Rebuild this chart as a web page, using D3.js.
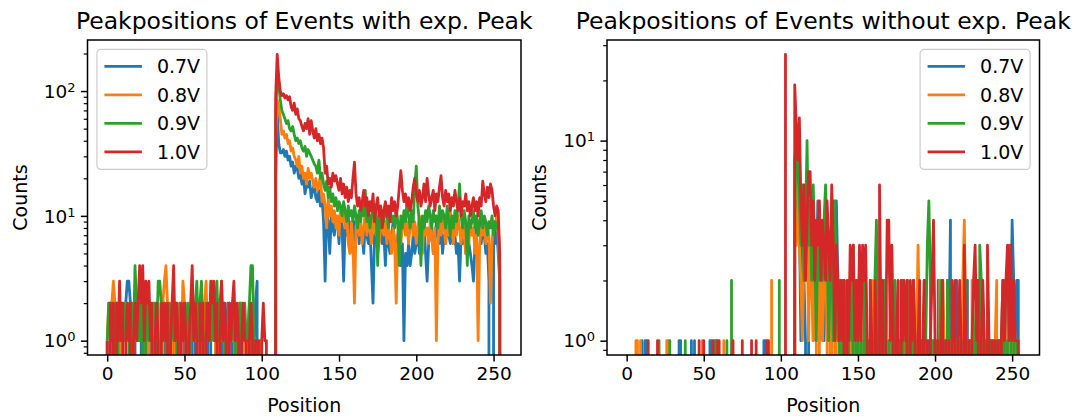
<!DOCTYPE html>
<html>
<head>
<meta charset="utf-8">
<script src="https://cdn.jsdelivr.net/npm/d3@7"></script>
<style>
    body { margin: 0; background: #ffffff; }
    svg { font-family: "DejaVu Sans", sans-serif; }
</style>
</head>
<body>
<svg id="chart"></svg>
<script>
// x positions 0..255 (one bin per position)
const positions = d3.range(256);
const seriesLabels = ["0.7V", "0.8V", "0.9V", "1.0V"];
const seriesColors = ["#1f77b4", "#ff7f0e", "#2ca02c", "#d62728"];
const xTickValues = [0, 50, 100, 150, 200, 250];
const panelTitles = ["Peakpositions of Events with exp. Peak", "Peakpositions of Events without exp. Peak"];

// events with expected peak
const withPeak07 = [
    1,0,1,2,1,1,2,0,1,2,1,1,2,3,3,2,
    1,0,1,2,1,1,2,0,1,1,2,1,0,1,2,1,
    1,0,1,2,1,1,0,2,1,1,0,1,2,1,0,1,
    1,2,1,0,1,2,1,1,0,1,2,1,1,0,1,1,
    2,1,0,1,2,1,1,0,1,2,1,0,1,1,2,1,
    0,1,1,2,1,0,1,2,1,1,0,1,2,1,0,1,
    2,3,0,0,0,0,0,0,0,0,0,0,0,20,68,38,
    32,32,34,30,33,28,30,25,27,22,25,24,20,22,18,20,
    15,18,17,19,14,16,18,14,13,16,12,14,9,3,11,9,
    5,10,8,7,10,9,6,11,8,3,9,7,10,6,8,5,
    9,7,10,6,8,7,5,9,7,6,8,4,2,7,9,5,
    7,8,6,7,4,8,6,5,7,9,6,5,7,5,4,6,
    1,5,4,6,4,5,7,5,6,8,5,7,6,9,5,3,
    6,7,8,5,6,9,7,6,8,5,7,6,9,7,6,8,
    6,7,5,6,3,7,6,8,5,7,6,5,4,3,6,8,
    7,9,6,8,7,5,6,3,0,0,7,6,8,5,3,0
];
const withPeak08 = [
    1,2,1,2,3,2,1,2,1,0,2,1,2,1,2,1,
    0,2,1,2,1,2,1,3,1,2,0,1,2,1,2,1,
    1,2,1,0,2,3,4,2,1,2,1,0,1,2,1,2,
    1,3,2,1,0,2,1,2,1,1,2,1,2,0,1,2,
    3,1,2,1,3,2,1,0,1,2,1,2,1,0,1,2,
    1,1,2,1,0,2,2,2,1,1,0,1,1,0,1,0,
    1,0,0,1,0,0,0,0,0,0,0,0,0,40,85,75,
    60,45,48,42,45,38,40,33,35,30,28,25,30,22,25,20,
    22,18,24,20,22,19,17,20,16,18,21,13,15,12,8,14,
    10,12,9,11,8,10,7,12,9,11,8,10,6,5,9,6,
    2,8,10,7,9,6,8,11,7,9,8,6,10,8,7,9,
    6,8,10,7,9,6,8,7,5,8,6,2,7,9,6,8,
    10,7,9,6,8,11,7,9,6,8,10,7,5,9,7,8,
    6,9,7,5,8,1,6,9,7,10,8,6,9,7,11,8,
    6,9,7,10,8,6,9,7,5,8,6,9,7,8,5,7,
    1,6,8,7,9,6,8,7,2,6,9,8,10,7,3,0
];
const withPeak09 = [
    1,2,2,1,2,1,0,2,1,2,1,2,1,2,1,0,
    2,1,4,2,1,2,1,2,0,1,2,1,2,1,0,2,
    1,3,3,2,1,2,1,0,2,1,2,1,2,1,0,2,
    1,1,2,1,2,0,1,2,1,2,3,1,2,3,1,0,
    2,1,2,1,2,1,2,3,1,2,3,1,2,0,1,2,
    1,2,1,2,0,1,2,1,1,2,1,1,2,4,4,1,
    0,0,0,0,0,0,0,0,0,0,0,0,0,60,140,110,
    85,70,65,60,55,58,50,48,52,45,40,42,38,40,35,33,
    36,30,34,32,30,28,26,25,22,28,20,22,18,16,19,14,
    17,13,15,12,14,11,13,12,10,13,11,9,12,10,11,9,
    12,10,8,11,9,12,10,16,9,11,8,10,12,9,11,4,
    10,8,11,9,12,10,8,11,9,10,8,12,9,4,10,8,
    11,9,13,10,8,11,9,17,25,12,9,4,10,8,11,9,
    12,10,8,11,9,10,8,12,9,11,10,8,12,9,7,10,
    8,11,9,12,18,10,8,11,9,4,10,8,9,11,8,10,
    7,9,11,8,10,9,7,9,8,10,7,9,8,9,4,0
];
const withPeak10 = [
    1,0,2,1,2,0,2,1,3,1,2,0,1,2,1,2,
    0,1,2,1,2,4,2,4,1,3,2,3,1,2,0,1,
    2,1,0,2,1,2,1,2,0,1,2,4,1,2,1,0,
    2,1,2,1,0,1,2,4,1,2,1,0,2,1,2,0,
    1,2,1,3,2,3,1,2,0,1,3,1,2,1,0,2,
    1,2,3,1,2,1,0,1,2,1,1,0,1,2,1,0,
    1,1,1,0,1,2,1,1,0,0,0,0,0,90,197,130,
    100,92,95,88,92,85,90,75,70,80,65,72,60,58,52,48,
    55,50,60,45,58,48,42,50,40,45,38,42,35,22,25,18,
    20,17,22,19,21,18,16,20,15,18,14,17,13,16,14,20,
    27,15,12,14,11,13,16,12,14,10,13,11,15,9,12,14,
    10,12,8,11,13,10,12,9,14,11,13,10,12,17,23,16,
    13,15,12,14,11,13,17,20,15,13,16,12,14,18,13,20,
    15,12,14,16,11,15,13,17,21,14,12,16,13,15,11,14,
    12,16,13,11,14,10,13,12,15,11,13,10,12,14,11,13,
    10,14,12,19,15,13,17,14,18,16,12,10,12,11,5,0
];

// events without expected peak
const noPeak07 = [
    0,0,0,0,0,0,0,0,0,0,1,0,1,1,0,0,
    0,0,0,0,0,0,0,0,0,0,0,0,0,0,0,0,
    0,0,1,1,0,0,0,0,0,0,1,0,1,0,0,0,
    0,0,0,0,0,0,1,1,0,0,1,0,0,0,0,0,
    0,0,0,0,0,0,0,0,0,0,0,0,0,0,0,0,
    0,0,0,0,0,0,0,0,0,1,1,0,0,0,0,0,
    0,0,0,0,0,0,0,0,0,0,0,0,0,8,10,7,
    4,1,3,2,1,0,3,2,4,1,3,2,5,1,2,3,
    1,2,4,1,2,3,5,1,5,2,1,0,2,1,0,1,
    2,0,1,2,0,1,0,2,1,0,1,0,1,0,2,0,
    1,0,0,1,0,2,1,0,1,0,1,0,2,1,0,0,
    1,0,1,2,0,1,0,1,0,1,2,0,1,0,0,1,
    0,2,1,0,1,0,1,0,1,0,2,0,1,0,1,0,
    2,1,4,0,1,0,2,1,0,1,0,1,0,2,0,1,
    0,1,0,1,0,2,0,1,0,0,1,0,1,0,1,0,
    1,0,1,1,2,0,2,1,2,1,4,2,1,2,2,0
];
const noPeak08 = [
    0,0,0,0,0,0,1,1,0,1,0,0,0,0,0,0,
    0,0,0,0,0,0,0,0,0,0,1,1,0,0,0,0,
    0,0,0,0,0,0,0,0,0,0,0,0,0,0,0,0,
    0,1,0,0,0,0,0,0,0,0,0,0,0,0,0,1,
    0,0,0,0,0,0,0,0,0,0,0,0,0,0,0,0,
    0,0,0,0,0,0,0,0,0,0,0,0,0,0,2,0,
    0,0,0,0,0,0,0,0,0,0,0,0,0,5,3,6,
    3,2,1,3,2,4,1,3,2,1,2,1,0,3,2,1,
    2,3,1,0,2,1,0,1,2,0,1,0,1,2,0,1,
    0,1,0,2,0,1,0,1,2,0,1,0,0,1,0,2,
    1,0,1,0,1,0,1,0,2,1,0,1,0,1,0,0,
    1,0,1,0,1,0,2,0,1,0,1,0,1,3,1,0,
    1,0,1,0,0,1,0,1,0,1,0,2,0,2,1,0,
    1,0,1,0,1,0,1,0,1,0,2,4,1,0,1,0,
    2,1,0,2,0,1,0,1,0,1,0,1,0,1,0,1,
    2,0,1,0,1,1,0,1,3,2,1,0,1,0,1,0
];
const noPeak09 = [
    0,0,0,0,0,0,0,0,0,0,0,0,0,0,0,0,
    0,0,0,0,0,1,0,0,0,0,0,0,1,0,0,0,
    0,0,0,0,0,0,1,0,0,0,0,0,0,0,0,0,
    0,0,0,0,0,0,0,0,0,1,1,0,0,0,0,0,
    0,1,0,0,2,0,0,0,0,0,0,0,0,0,0,0,
    0,0,0,0,0,0,0,0,0,0,0,0,0,0,0,0,
    0,0,0,2,0,0,0,0,0,0,0,0,0,4,11,9,
    5,3,6,2,4,10,3,5,2,6,3,1,4,2,3,2,
    4,6,3,1,2,3,1,5,2,1,2,0,1,2,1,0,
    1,2,1,3,0,1,2,0,1,0,2,1,0,1,0,1,
    0,2,4,1,0,1,0,2,1,0,1,0,1,0,2,1,
    0,1,0,2,0,1,2,0,1,0,2,1,0,1,0,1,
    0,2,1,3,5,2,0,1,0,1,0,1,2,0,1,0,
    2,1,0,2,0,1,0,1,0,1,0,1,2,0,1,0,
    1,0,1,2,0,3,2,0,1,0,1,0,1,0,1,0,
    1,0,1,0,1,2,0,1,0,2,1,2,0,1,0,0
];
const noPeak10 = [
    0,0,0,0,0,0,0,0,0,0,0,0,0,0,1,0,
    0,0,0,0,1,0,0,0,0,0,0,0,0,0,0,0,
    0,0,0,0,0,0,0,0,0,0,0,0,0,0,0,1,
    0,0,1,0,0,0,0,0,1,0,0,1,1,0,0,0,
    0,0,0,0,0,1,0,0,0,0,0,1,0,0,0,0,
    0,1,0,0,1,0,0,0,0,0,0,1,1,0,0,0,
    0,0,0,0,0,0,0,27,0,0,0,0,0,19,12,8,
    13,5,3,6,2,4,7,7,3,5,2,4,3,5,2,4,
    3,2,5,3,2,6,3,1,3,2,1,2,1,2,0,2,
    1,3,2,3,1,2,1,3,1,3,2,3,1,0,2,1,
    0,2,1,0,6,1,2,0,1,4,4,1,3,1,0,1,
    2,0,2,1,2,1,2,0,2,1,2,1,0,1,2,0,
    1,2,0,1,0,1,2,4,1,0,1,0,1,2,0,1,
    0,1,0,2,1,2,0,1,2,1,0,3,1,0,1,0,
    1,2,3,1,2,0,1,2,1,0,3,1,0,1,0,1,
    0,1,0,1,2,1,2,3,1,3,1,2,1,1,1,0
];

const width = 1084;
const height = 418;
const plotTop = 40;
const plotBottom = 355;

const svg = d3.select("#chart")
    .attr("width", width)
    .attr("height", height);

function drawPanel(cfg)
{
    const w = cfg.right - cfg.left;
    const h = plotBottom - plotTop;
    const g = svg.append("g")
        .attr("transform", `translate(${cfg.left},${plotTop})`);

    // matplotlib style 5% margins
    const xMin = d3.min(positions), xMax = d3.max(positions);
    const xPad = 0.05 * (xMax - xMin);
    const x = d3.scaleLinear()
        .domain([xMin - xPad, xMax + xPad])
        .range([0, w]);

    const positive = cfg.series.flat().filter(v => v > 0);
    const lo = Math.log10(d3.min(positive));
    const hi = Math.log10(d3.max(positive));
    const yPad = 0.05 * (hi - lo);
    const y = d3.scaleLog()
        .domain([Math.pow(10, lo - yPad), Math.pow(10, hi + yPad)])
        .range([h, 0]);

    g.append("clipPath")
        .attr("id", cfg.id + "-clip")
        .append("rect")
        .attr("width", w)
        .attr("height", h);

    // zero counts drop far below the axis like log clipping does
    const line = d3.line()
        .x((d, i) => x(positions[i]))
        .y(d => d > 0 ? y(d) : h + 100000);

    g.append("g")
        .attr("clip-path", `url(#${cfg.id}-clip)`)
        .selectAll("path")
        .data(cfg.series)
        .join("path")
        .attr("d", line)
        .attr("fill", "none")
        .attr("stroke", (d, i) => seriesColors[i])
        .attr("stroke-width", 2.8)
        .attr("stroke-linejoin", "round");

    // x axis
    const xAxis = g.append("g")
        .attr("transform", `translate(0,${h})`)
        .call(d3.axisBottom(x).tickValues(xTickValues).tickSize(6.6).tickPadding(5));
    xAxis.select(".domain").remove();
    xAxis.selectAll("line").attr("stroke", "black").attr("stroke-width", 1.5);
    xAxis.selectAll("text")
        .attr("fill", "black")
        .style("font-family", "DejaVu Sans")
        .style("font-size", "18.5px");

    // y axis: major decades and minor ticks
    const [d0, d1] = y.domain();
    const majors = [];
    const minors = [];
    for (let e = Math.floor(Math.log10(d0)) - 1; e <= Math.ceil(Math.log10(d1)); e++)
    {
        const base = Math.pow(10, e);
        if (base >= d0 && base <= d1) majors.push(base);
        for (let k = 2; k <= 9; k++)
        {
            const v = k * base;
            if (v >= d0 && v <= d1) minors.push(v);
        }
    }

    const yMinor = g.append("g")
        .call(d3.axisLeft(y).tickValues(minors).tickSize(3.75).tickFormat(""));
    yMinor.select(".domain").remove();
    yMinor.selectAll("line").attr("stroke", "black").attr("stroke-width", 1.2);

    const yMajor = g.append("g")
        .call(d3.axisLeft(y).tickValues(majors).tickSize(6.6).tickFormat(""));
    yMajor.select(".domain").remove();
    yMajor.selectAll("line").attr("stroke", "black").attr("stroke-width", 1.5);

    const yLabels = g.append("g")
        .selectAll("text")
        .data(majors)
        .join("text")
        .attr("x", -12)
        .attr("y", d => y(d))
        .attr("dy", "0.36em")
        .attr("text-anchor", "end")
        .style("font-size", "18.5px")
        .attr("fill", "black");
    yLabels.append("tspan").text("10");
    yLabels.append("tspan")
        .attr("dy", "-0.45em")
        .style("font-size", "13px")
        .text(d => Math.round(Math.log10(d)));

    // spines
    g.append("rect")
        .attr("width", w)
        .attr("height", h)
        .attr("fill", "none")
        .attr("stroke", "black")
        .attr("stroke-width", 1.5);

    // labels and title
    g.append("text")
        .attr("x", w / 2)
        .attr("y", h + 57)
        .attr("text-anchor", "middle")
        .style("font-size", "19px")
        .text("Position");

    g.append("text")
        .attr("transform", `translate(${cfg.yLabelX - cfg.left},${h / 2}) rotate(-90)`)
        .attr("text-anchor", "middle")
        .style("font-size", "19px")
        .text("Counts");

    g.append("text")
        .attr("x", w / 2)
        .attr("y", -11)
        .attr("text-anchor", "middle")
        .style("font-size", "23.5px")
        .text(cfg.title);

    // legend
    const boxW = 110, boxH = 120;
    const lx = cfg.legend === "left" ? 9.4 : w - 9.4 - boxW;
    const legend = g.append("g")
        .attr("transform", `translate(${lx},9.4)`);
    legend.append("rect")
        .attr("width", boxW)
        .attr("height", boxH)
        .attr("rx", 4)
        .attr("fill", "white")
        .attr("fill-opacity", 0.8)
        .attr("stroke", "#cccccc")
        .attr("stroke-width", 1.2);
    const rows = legend.selectAll(".row")
        .data(seriesLabels)
        .join("g")
        .attr("class", "row")
        .attr("transform", (d, i) => `translate(0,${17 + i * 28.5})`);
    rows.append("line")
        .attr("x1", 7.5)
        .attr("x2", 45)
        .attr("stroke", (d, i) => seriesColors[i])
        .attr("stroke-width", 2.8);
    rows.append("text")
        .attr("x", 60)
        .attr("dy", "0.36em")
        .style("font-size", "19px")
        .text(d => d);
}

drawPanel({
    id: "with",
    left: 87.5,
    right: 521,
    yLabelX: 27,
    legend: "left",
    title: panelTitles[0],
    series: [withPeak07, withPeak08, withPeak09, withPeak10]
});

drawPanel({
    id: "without",
    left: 607,
    right: 1039.5,
    yLabelX: 546,
    legend: "right",
    title: panelTitles[1],
    series: [noPeak07, noPeak08, noPeak09, noPeak10]
});
</script>
</body>
</html>
